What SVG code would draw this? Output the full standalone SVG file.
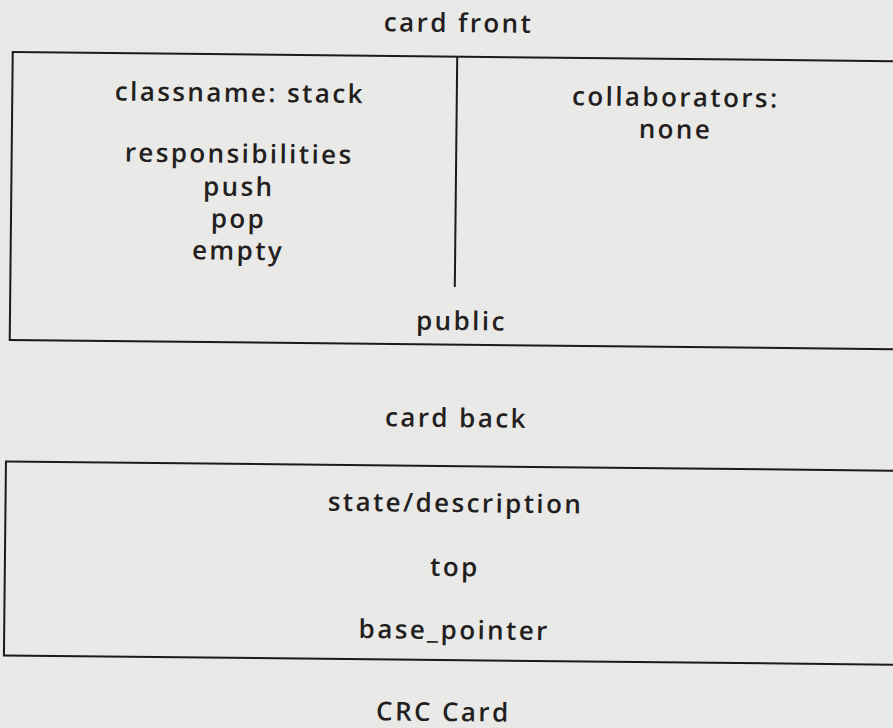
<svg xmlns="http://www.w3.org/2000/svg" width="893" height="728" viewBox="0 0 893 728">
  <style>
    .card { fill: none; stroke: #1e1a1c; stroke-width: 2; }
    .lbl { font-family: "Open Sans", "Noto Sans", "DejaVu Sans", sans-serif; font-size: 26px; font-weight: 600; fill: #231f20; text-anchor: middle; letter-spacing: 2.4px; }
  </style>
  <rect width="893" height="728" fill="#e9e9e7"/>
  <!-- the whole sheet sits slightly tilted -->
  <g transform="rotate(0.6 446 364)">
    <text class="lbl" x="455" y="32">card front</text>

    <!-- front of the card: class name, responsibilities, collaborators -->
    <g id="card-front">
      <rect class="card" x="9.5" y="56.5" width="900" height="288"/>
      <line class="card" x1="454" y1="56.5" x2="454" y2="287"/>
      <text class="lbl" x="237" y="104">classname: stack</text>
      <text class="lbl" x="237" y="165">responsibilities</text>
      <text class="lbl" x="237" y="198">push</text>
      <text class="lbl" x="237" y="230">pop</text>
      <text class="lbl" x="237" y="262">empty</text>
      <text class="lbl" x="673" y="104">collaborators:</text>
      <text class="lbl" x="673" y="136">none</text>
      <text class="lbl" x="461" y="330">public</text>
    </g>

    <text class="lbl" x="457" y="427">card back</text>

    <!-- back of the card: state -->
    <g id="card-back">
      <rect class="card" x="7" y="466" width="900" height="194"/>
      <text class="lbl" x="457" y="512">state/description</text>
      <text class="lbl" x="457" y="576">top</text>
      <text class="lbl" x="457" y="639">base_pointer</text>
    </g>

    <text class="lbl" x="447" y="721">CRC Card</text>
  </g>
</svg>
